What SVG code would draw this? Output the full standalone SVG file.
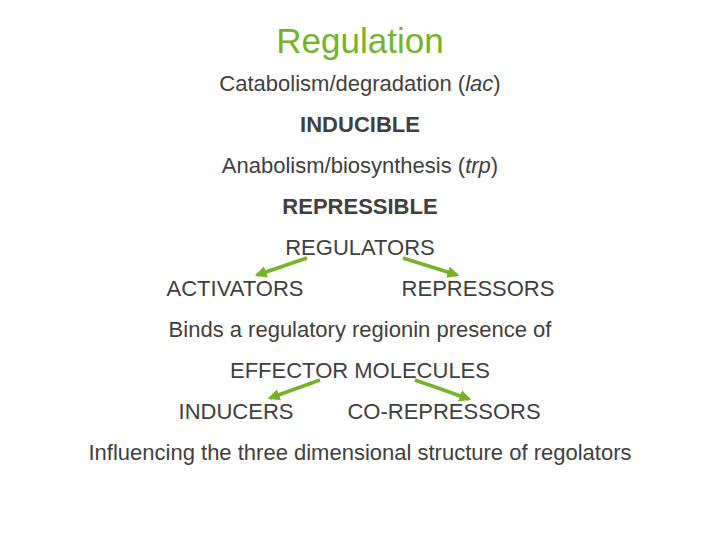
<svg xmlns="http://www.w3.org/2000/svg" width="720" height="540" viewBox="0 0 720 540">
<defs>
<style>
text{font-family:"Liberation Sans",Arial,sans-serif;fill:#404040;font-size:22px;text-anchor:middle}
.t{fill:#76b22a;font-size:35px}
.b{font-weight:bold}
.c{stroke:#76b22a;stroke-width:3.5;fill:none;marker-end:url(#ah)}
</style>
<marker id="ah" viewBox="0 0 10 10" refX="8" refY="5" markerWidth="3.4" markerHeight="3.4" orient="auto" markerUnits="strokeWidth">
<path d="M0,0L10,5L0,10z" fill="#76b22a"/>
</marker>
</defs>
<rect width="720" height="540" fill="#fff"/>
<g id="title"><text class="t" x="360" y="53">Regulation</text></g>
<g id="catabolism"><text x="360" y="91">Catabolism/degradation (<tspan font-style="italic">lac</tspan>)</text></g>
<g id="inducible"><text class="b" x="360" y="132">INDUCIBLE</text></g>
<g id="anabolism"><text x="360" y="173">Anabolism/biosynthesis (<tspan font-style="italic">trp</tspan>)</text></g>
<g id="repressible"><text class="b" x="360" y="214">REPRESSIBLE</text></g>
<g id="regulators"><text x="360" y="255">REGULATORS</text></g>
<g id="activators"><text x="235" y="296">ACTIVATORS</text></g>
<g id="repressors"><text x="478" y="296">REPRESSORS</text></g>
<g id="binds"><text x="360" y="337">Binds a regulatory regionin presence of</text></g>
<g id="effector"><text x="360" y="378">EFFECTOR MOLECULES</text></g>
<g id="inducers"><text x="236" y="419">INDUCERS</text></g>
<g id="corepressors"><text x="444" y="419">CO-REPRESSORS</text></g>
<g id="influencing"><text x="360" y="460">Influencing the three dimensional structure of regolators</text></g>
<g id="connectors">
<line class="c" x1="307" y1="258" x2="257" y2="275"/>
<line class="c" x1="403" y1="258" x2="457" y2="275"/>
<line class="c" x1="320" y1="380" x2="270" y2="398"/>
<line class="c" x1="415" y1="380" x2="469" y2="399"/>
</g>
</svg>
